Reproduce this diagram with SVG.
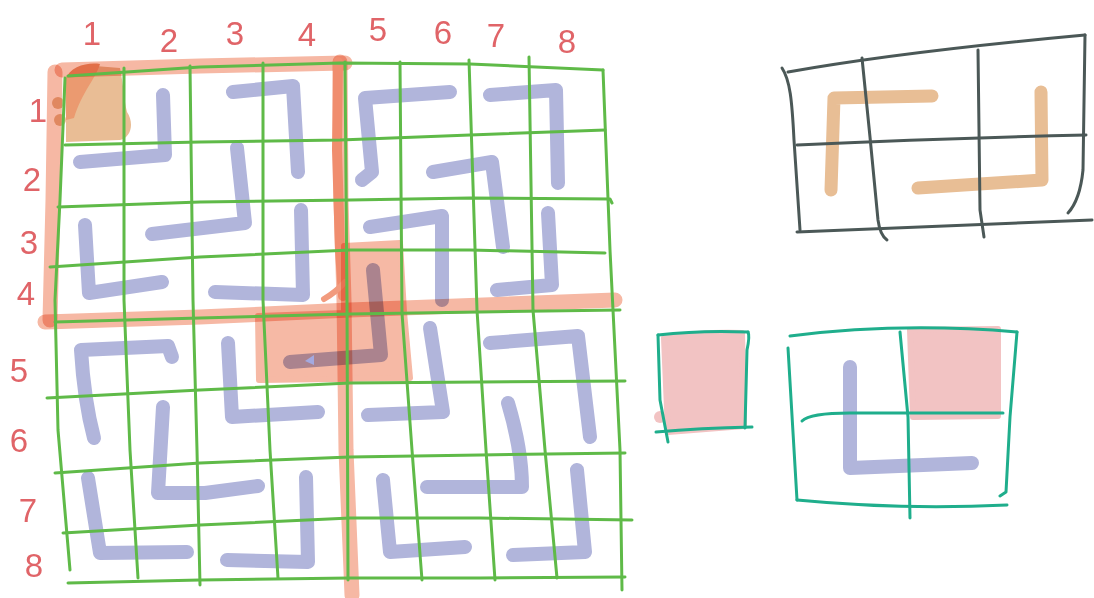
<svg xmlns="http://www.w3.org/2000/svg" width="1094" height="598" viewBox="0 0 1094 598">
<style>
.pipe{fill:none;stroke:#b1b5db;stroke-width:14;stroke-linecap:round;stroke-linejoin:round}
.hl{mix-blend-mode:multiply}
.band{fill:none;stroke:#f6b8a4;stroke-width:15;stroke-linecap:round;stroke-linejoin:round}
.grid{fill:none;stroke:#5fba48;stroke-width:3;stroke-linecap:round;stroke-linejoin:round}
.num{font-family:"Liberation Sans",Arial,sans-serif;font-size:33px;fill:#e06468;text-anchor:middle}
.gray{fill:none;stroke:#4b5857;stroke-width:3;stroke-linecap:round;stroke-linejoin:round}
.teal{fill:none;stroke:#1fae8c;stroke-width:3;stroke-linecap:round;stroke-linejoin:round}
.tan{fill:none;stroke:#e8be95;stroke-width:13;stroke-linecap:round;stroke-linejoin:round}
.pink{fill:#f2c3c3;stroke:#f2c3c3;stroke-width:6;stroke-linejoin:round}
</style>
<rect width="1094" height="598" fill="#ffffff"/>

<g id="labels">
<text class="num" x="92" y="45">1</text>
<text class="num" x="169" y="52">2</text>
<text class="num" x="235" y="45">3</text>
<text class="num" x="307" y="46">4</text>
<text class="num" x="378" y="41">5</text>
<text class="num" x="443" y="44">6</text>
<text class="num" x="496" y="47">7</text>
<text class="num" x="567" y="53">8</text>
<text class="num" x="38" y="122">1</text>
<text class="num" x="32" y="191">2</text>
<text class="num" x="29" y="254">3</text>
<text class="num" x="26" y="305">4</text>
<text class="num" x="19" y="382">5</text>
<text class="num" x="19" y="452">6</text>
<text class="num" x="28" y="522">7</text>
<text class="num" x="34" y="577">8</text>
</g>

<g id="pipes">
<path class="pipe" d="M163,95 L165,155 L80,162"/>
<path class="pipe" d="M233,92 L293,86 L298,172"/>
<path class="pipe" d="M237,148 L245,223 L152,234"/>
<path class="pipe" d="M85,225 L89,293 L162,282"/>
<path class="pipe" d="M301,210 L303,295 L215,292"/>
<path class="pipe" d="M450,92 L365,98 L372,172 L362,180"/>
<path class="pipe" d="M490,95 L556,90 L558,183"/>
<path class="pipe" d="M433,172 L492,162 L503,247"/>
<path class="pipe" d="M370,227 L442,216 L442,300"/>
<path class="pipe" d="M548,213 L552,285 L497,290"/>
<path class="pipe" d="M373,270 L381,355 L290,362"/>
<path class="pipe" d="M94,438 Q84,400 81,350 L168,346 L172,357"/>
<path class="pipe" d="M228,343 L232,417 L318,412"/>
<path class="pipe" d="M163,407 L158,493 L205,493 L258,486"/>
<path class="pipe" d="M88,478 L100,553 L187,552"/>
<path class="pipe" d="M306,477 L308,562 L227,560"/>
<path class="pipe" d="M430,328 L443,412 L368,415"/>
<path class="pipe" d="M490,343 L578,336 L590,437"/>
<path class="pipe" d="M508,403 Q522,450 522,487 L427,487"/>
<path class="pipe" d="M383,480 L390,552 L465,547"/>
<path class="pipe" d="M577,470 L585,552 L513,555"/>
</g>

<g id="highlights">
<path class="hl" fill="#e9bd95" d="M66,82 C66,70 80,66 95,66 L120,68 C124,88 124,100 127,112 C134,122 132,137 120,140 L66,142 Z"/>
<circle class="hl" cx="58" cy="103" r="6" fill="#e9bd95"/>
<circle class="hl" cx="60" cy="120" r="6" fill="#e9bd95"/>
<path fill="#eb9a70" d="M65,80 C70,66 88,62 100,64 C96,78 82,92 74,118 L66,120 Z"/>
<path class="hl band" d="M62,70 L200,66 L345,63"/>
<path class="hl band" stroke-width="12" d="M55,72 L53,200 L50,320"/>
<path class="hl band" d="M45,322 L200,317 L350,310 L615,300"/>
<path class="hl band" stroke-width="16" d="M340,62 L341,200 L344,300 L346,450 L352,595"/>
<path fill="none" stroke="#f08d6e" stroke-width="10" stroke-linecap="round" d="M338,62 L337,150 L340,250 L343,296"/>
<path fill="none" stroke="#f29b7e" stroke-width="6" stroke-linecap="round" d="M345,282 Q336,292 324,299"/>
<path class="hl" fill="#f6b9a5" stroke="#f6b9a5" stroke-width="6" stroke-linejoin="round" d="M344,246 L400,243 L404,312 L410,378 L259,380 L258,316 L344,313 Z"/>
</g>
<path id="arrowhead" fill="#a3a9e0" d="M305,361 L314,355 L314,365 Z"/>

<g id="grid">
<polyline class="grid" points="68,76 200,67 340,63 470,64 603,70"/>
<polyline class="grid" points="65,145 200,142 340,140 470,135 605,130"/>
<polyline class="grid" points="58,207 200,202 350,200 470,198 610,199 612,203"/>
<polyline class="grid" points="50,267 200,257 350,250 470,250 605,253"/>
<polyline class="grid" points="55,322 200,318 350,314 480,312 620,310"/>
<polyline class="grid" points="47,398 200,390 350,383 480,382 625,381"/>
<polyline class="grid" points="55,473 200,463 350,457 480,455 625,453"/>
<polyline class="grid" points="63,533 200,525 350,518 480,518 632,520"/>
<polyline class="grid" points="68,583 200,580 350,578 480,578 625,577"/>
<polyline class="grid" points="65,78 60,200 55,300 58,430 70,570"/>
<polyline class="grid" points="124,68 124,300 130,450 138,578"/>
<polyline class="grid" points="190,66 193,300 197,450 200,585"/>
<polyline class="grid" points="263,63 263,300 270,450 278,578"/>
<polyline class="grid" points="345,62 347,300 348,580"/>
<polyline class="grid" points="400,62 402,313 412,450 422,580"/>
<polyline class="grid" points="469,60 477,310 486,450 495,580"/>
<polyline class="grid" points="529,57 533,310 545,450 557,578"/>
<polyline class="grid" points="603,70 610,250 613,310 620,450 622,590"/>
</g>

<g id="example-top">
<path class="tan" d="M831,190 L834,98 L932,96"/>
<path class="tan" d="M1041,92 L1042,180 L918,188"/>
<path class="gray" d="M788,72 Q900,52 1085,35"/>
<path class="gray" d="M782,68 C790,80 792,100 794,140 L797,185 L800,230"/>
<path class="gray" d="M797,232 Q900,228 1092,220"/>
<path class="gray" d="M1085,35 L1083,170 Q1080,200 1068,213"/>
<path class="gray" d="M797,145 Q950,138 1086,135"/>
<path class="gray" d="M862,58 L870,137 L878,220 Q880,235 887,240"/>
<path class="gray" d="M978,50 L980,210 L984,237"/>
</g>

<g id="example-single">
<path class="pink" d="M664,338 C690,334 720,332 742,333 L744,426 L668,432 Z"/>
<circle cx="660" cy="417" r="6" fill="#f2c3c3"/>
<path class="teal" d="M658,335 Q700,330 748,332"/>
<path class="teal" d="M748,332 Q750,336 747,350 L745,428"/>
<path class="teal" d="M656,432 Q700,428 752,427"/>
<path class="teal" d="M658,335 L660,400 L668,442"/>
</g>

<g id="example-double">
<path class="pink" d="M910,330 L998,329 L998,416 L913,417 Z"/>
<path class="pipe" d="M850,367 L850,468 L972,463"/>
<path class="teal" d="M790,336 Q900,322 1017,332"/>
<path class="teal" d="M788,348 L797,500"/>
<path class="teal" d="M797,500 Q900,510 1007,505"/>
<path class="teal" d="M1017,332 L1010,417 L1006,492 L1000,496"/>
<path class="teal" d="M802,421 Q810,413 850,413 L1003,413"/>
<path class="teal" d="M900,332 L908,417 L910,518"/>
</g>
</svg>
